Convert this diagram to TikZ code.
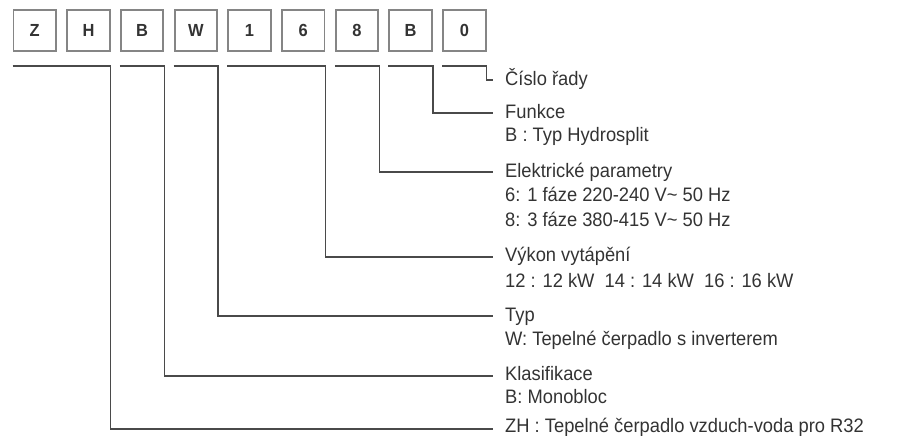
\documentclass[tikz,border=0pt]{standalone}
\usepackage{fontspec}
\setmainfont[FakeStretch=0.94]{Liberation Sans}
\definecolor{txt}{HTML}{333333}
\definecolor{ln}{HTML}{4A4A4A}
\definecolor{bx}{HTML}{858585}
\begin{document}
\begin{tikzpicture}[x=1pt,y=-1pt,
  digit/.style={draw=bx, line width=1.9pt, minimum width=42.5pt, minimum height=41.5pt,
    inner sep=0pt, font=\bfseries\fontsize{17.5}{17.5}\selectfont, text=txt},
  lbl/.style={anchor=base west, inner sep=0pt, font=\fontsize{19.5}{20}\selectfont, text=txt},
  conn/.style={draw=ln, line width=1.3pt}]
\useasboundingbox (0,0) rectangle (911,436);
% code boxes
\node[digit] (b1) at (34.75,30.7) {Z};
\node[digit] (b2) at (88.45,30.7) {H};
\node[digit] (b3) at (142.15,30.7) {B};
\node[digit] (b4) at (195.85,30.7) {W};
\node[digit] (b5) at (249.55,30.7) {1};
\node[digit] (b6) at (303.25,30.7) {6};
\node[digit] (b7) at (356.95,30.7) {8};
\node[digit] (b8) at (410.65,30.7) {B};
\node[digit] (b9) at (464.35,30.7) {0};
% connector ends
\coordinate (e1) at (493,80);
\coordinate (e2) at (493,113);
\coordinate (e3) at (493,172);
\coordinate (e4) at (493,257);
\coordinate (e5) at (493,316);
\coordinate (e6) at (493,376);
\coordinate (e7) at (493,429);
% connectors
\draw[conn] ([yshift=-13.5pt]b9.south west) -- ([yshift=-13.5pt]b9.south east) |- (e1);
\draw[conn] ([yshift=-13.5pt]b8.south west) -- ([yshift=-13.5pt]b8.south east) |- (e2);
\draw[conn] ([yshift=-13.5pt]b7.south west) -- ([yshift=-13.5pt]b7.south east) |- (e3);
\draw[conn] ([yshift=-13.5pt]b5.south west) -- ([yshift=-13.5pt]b6.south east) |- (e4);
\draw[conn] ([yshift=-13.5pt]b4.south west) -- ([yshift=-13.5pt]b4.south east) |- (e5);
\draw[conn] ([yshift=-13.5pt]b3.south west) -- ([yshift=-13.5pt]b3.south east) |- (e6);
\draw[conn] ([yshift=-13.5pt]b1.south west) -- ([yshift=-13.5pt]b2.south east) |- (e7);
% labels
\node[lbl] (l1) at ([xshift=12pt,yshift=-5pt]e1) {Číslo řady};
\node[lbl] (l2) at ([xshift=12pt,yshift=-5pt]e2) {Funkce};
\node[lbl] (l2b) at ([yshift=-24pt]l2.base west) {B : Typ Hydrosplit};
\node[lbl] (l3) at ([xshift=12pt,yshift=-5pt]e3) {Elektrické parametry};
\node[lbl] (l3b) at ([yshift=-24.5pt]l3.base west) {6: 1 fáze 220-240 V\textasciitilde{} 50 Hz};
\node[lbl] (l3c) at ([yshift=-24.5pt]l3b.base west) {8: 3 fáze 380-415 V\textasciitilde{} 50 Hz};
\node[lbl] (l4) at ([xshift=12pt,yshift=-4pt]e4) {Výkon vytápění};
\node[lbl] (l4b) at ([yshift=-26pt]l4.base west) {12 : 12 kW\ \ 14 : 14 kW\ \ 16 : 16 kW};
\node[lbl] (l5) at ([xshift=12pt,yshift=-5pt]e5) {Typ};
\node[lbl] (l5b) at ([yshift=-24pt]l5.base west) {W: Tepelné čerpadlo s inverterem};
\node[lbl] (l6) at ([xshift=12pt,yshift=-4pt]e6) {Klasifikace};
\node[lbl] (l6b) at ([yshift=-23pt]l6.base west) {B: Monobloc};
\node[lbl] (l7) at ([xshift=12pt,yshift=-3pt]e7) {ZH : Tepelné čerpadlo vzduch-voda pro R32};
\end{tikzpicture}
\end{document}
